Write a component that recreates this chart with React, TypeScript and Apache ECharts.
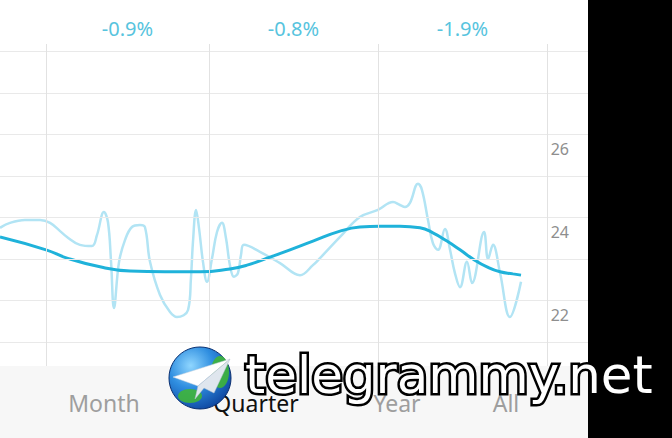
import React, { useEffect, useRef } from "react";
import * as echarts from "echarts";

// x unit: days from left edge of the visible window
const xMin = 0;
const xMax = 323;
const quarterBounds = [25.3, 114.8, 207.6, 300.5];
const quarterChanges = ["-0.9%", "-0.8%", "-1.9%"];
const yMin = 20.77;
const yMax = 28.53;
const yTicks = [22, 24, 26];
const gridLevels = [21.35, 22.35, 23.35, 24.35, 25.35, 26.35, 27.35, 28.35];

const rawDays = [
  0, 5.5, 13.7, 22.0, 27.5, 33.0, 36.8, 43.9, 50.5, 53.3, 57.1, 59.3, 61.0, 62.6, 65.4, 68.7,
  72.5, 76.9, 79.6, 82.4, 87.9, 93.4, 97.2, 103.3, 104.9, 106.0, 107.7, 109.3, 111.5, 113.7,
  116.5, 119.2, 121.9, 124.1, 126.3, 128.5, 130.7, 132.4, 134.0, 142.8, 153.8, 164.8, 171.9,
  175.8, 186.8, 197.7, 207.6, 215.9, 219.7, 222.5, 225.2, 229.6, 231.8, 235.1, 237.8, 240.6,
  244.4, 247.2, 249.9, 252.7, 256.5, 259.3, 265.9, 268.1, 270.8, 274.7, 280.1, 286.2,
];
const rawValues = [
  24.1, 24.22, 24.29, 24.29, 24.22, 24.02, 23.88, 23.69, 23.66, 23.93, 24.48, 24.24, 23.28,
  22.17, 23.28, 23.81, 24.12, 24.17, 24.12, 23.28, 22.48, 22.07, 21.95, 22.12, 22.89, 23.76,
  24.53, 24.1, 23.28, 22.8, 23.37, 24.0, 24.22, 23.86, 23.2, 22.92, 23.01, 23.45, 23.69, 23.52,
  23.25, 22.96, 23.2, 23.37, 23.88, 24.36, 24.53, 24.72, 24.65, 24.6, 24.7, 25.16, 25.01, 24.29,
  23.73, 23.57, 24.07, 23.57, 23.01, 22.67, 23.28, 22.77, 24.0, 23.35, 23.69, 23.01, 21.95, 22.8,
];

const trendDays = [
  0, 25.3, 36.8, 54.9, 71.4, 90.6, 109.9, 126.3, 135.7, 146.7, 159.3, 171.9, 186.8, 197.7, 208.7,
  219.7, 230.7, 237.8, 245.5, 252.7, 259.8, 267.5, 274.7, 281.8, 286.2,
];
const trendValues = [
  23.88, 23.57, 23.37, 23.16, 23.06, 23.04, 23.04, 23.11, 23.2, 23.37, 23.57, 23.78, 24.02, 24.12,
  24.14, 24.14, 24.1, 23.98, 23.78, 23.57, 23.35, 23.16, 23.04, 22.99, 22.96,
];

const tabs = ["Month", "Quarter", "Year", "All"];
const selectedTab = "Quarter";

export default function App() {
  const ref = useRef<HTMLDivElement>(null);
  useEffect(() => {
    if (!ref.current) return;
    const chart = echarts.init(ref.current, null, { renderer: "svg" });
    const mids = quarterBounds.slice(0, -1).map((b, i) => (b + quarterBounds[i + 1]) / 2);
    const W = 672;
    const H = 438;
    const plotRight = 588;
    const bandTop = 366;
    const tabCenters = [104, 256, 397, 506];

    chart.setOption({
      animation: false,
      backgroundColor: "#ffffff",
      grid: { left: 0, right: W - plotRight, top: 44, bottom: H - bandTop, containLabel: false, outerBoundsMode: "none" },
      xAxis: [
        {
          type: "value", min: xMin, max: xMax, show: false,
        },
        {
          type: "value", min: xMin, max: xMax, position: "top",
          axisLine: { show: false }, axisTick: { show: false }, splitLine: { show: false },
          axisLabel: {
            customValues: mids,
            margin: 6,
            color: "#57c4de",
            fontSize: 20,
            fontFamily: "Noto Sans",
            formatter: (v: number) => {
              let best = 0;
              mids.forEach((m, i) => { if (Math.abs(m - v) < Math.abs(mids[best] - v)) best = i; });
              return quarterChanges[best];
            },
          },
        },
      ],
      yAxis: {
        type: "value", min: yMin, max: yMax, position: "right",
        axisLine: { show: false }, axisTick: { show: false }, splitLine: { show: false },
        axisLabel: {
          inside: true, margin: 19, customValues: yTicks,
          color: "#8e8e8e", fontSize: 16, fontFamily: "Noto Sans",
        },
      },
      series: [
        {
          type: "line",
          xAxisIndex: 0,
          data: rawDays.map((d, i) => [d, rawValues[i]]),
          smooth: 0.4,
          showSymbol: false,
          z: 2,
          lineStyle: { color: "#b2e4f4", width: 2.5 },
          markLine: {
            silent: true, symbol: "none", label: { show: false },
            lineStyle: { color: "#e9e9e9", width: 1, type: "solid" },
            data: [
              ...gridLevels.map((v) => ({ yAxis: v })),
              ...quarterBounds.map((v) => ({ xAxis: v, lineStyle: { color: "#e2e2e2", width: 1, type: "solid" } })),
            ],
          },
        },
        {
          type: "line",
          xAxisIndex: 0,
          data: trendDays.map((d, i) => [d, trendValues[i]]),
          smooth: true,
          showSymbol: false,
          z: 3,
          lineStyle: { color: "#1fb2da", width: 3 },
        },
      ],
      graphic: [
        { type: "rect", shape: { x: 0, y: bandTop, width: plotRight, height: H - bandTop }, style: { fill: "#f7f7f7" }, z: 10 },
        ...tabs.map((t, i) => ({
          type: "text", x: tabCenters[i], y: 403, z: 11,
          style: {
            text: t, align: "center", verticalAlign: "middle",
            fontSize: 23, fontFamily: "Noto Sans",
            fill: t === selectedTab ? "#111111" : "#9e9e9e",
          },
        })),
        { type: "rect", shape: { x: plotRight, y: 0, width: W - plotRight, height: H }, style: { fill: "#000000" }, z: 12 },
        // watermark
        {
          type: "circle", shape: { cx: 200, cy: 378, r: 31 }, z: 20,
          style: {
            fill: new echarts.graphic.RadialGradient(0.35, 0.3, 0.8, [
              { offset: 0, color: "#8fd6ff" },
              { offset: 0.45, color: "#2f8ee0" },
              { offset: 1, color: "#0b3f9a" },
            ]),
            stroke: "#0a2f70", lineWidth: 1,
          },
        },
        { type: "ellipse", shape: { cx: 220, cy: 372, rx: 9, ry: 16 }, z: 21, style: { fill: "#3fb53a", opacity: 0.9 } },
        { type: "ellipse", shape: { cx: 190, cy: 396, rx: 12, ry: 7 }, z: 21, style: { fill: "#3fb53a", opacity: 0.9 } },
        { type: "polygon", shape: { points: [[230, 359], [173, 377], [198, 386]] }, z: 22, style: { fill: "#ffffff", stroke: "#c8d3de", lineWidth: 0.5 } },
        { type: "polygon", shape: { points: [[230, 359], [198, 386], [195, 399], [204, 388], [214, 393]] }, z: 22, style: { fill: "#dfe6ee", stroke: "#b7c3cf", lineWidth: 0.5 } },
        {
          type: "text", x: 245, y: 375, z: 25,
          style: {
            text: "telegrammy.net", align: "left", verticalAlign: "middle",
            fontSize: 51.5, fontFamily: "DejaVu Sans",
            fill: "#ffffff", stroke: "#000000", lineWidth: 5,
          },
        },
      ],
    });
    return () => chart.dispose();
  }, []);
  return <div ref={ref} style={{ position: "fixed", left: 0, top: 0, width: 672, height: 438, background: "#fff" }} />;
}
